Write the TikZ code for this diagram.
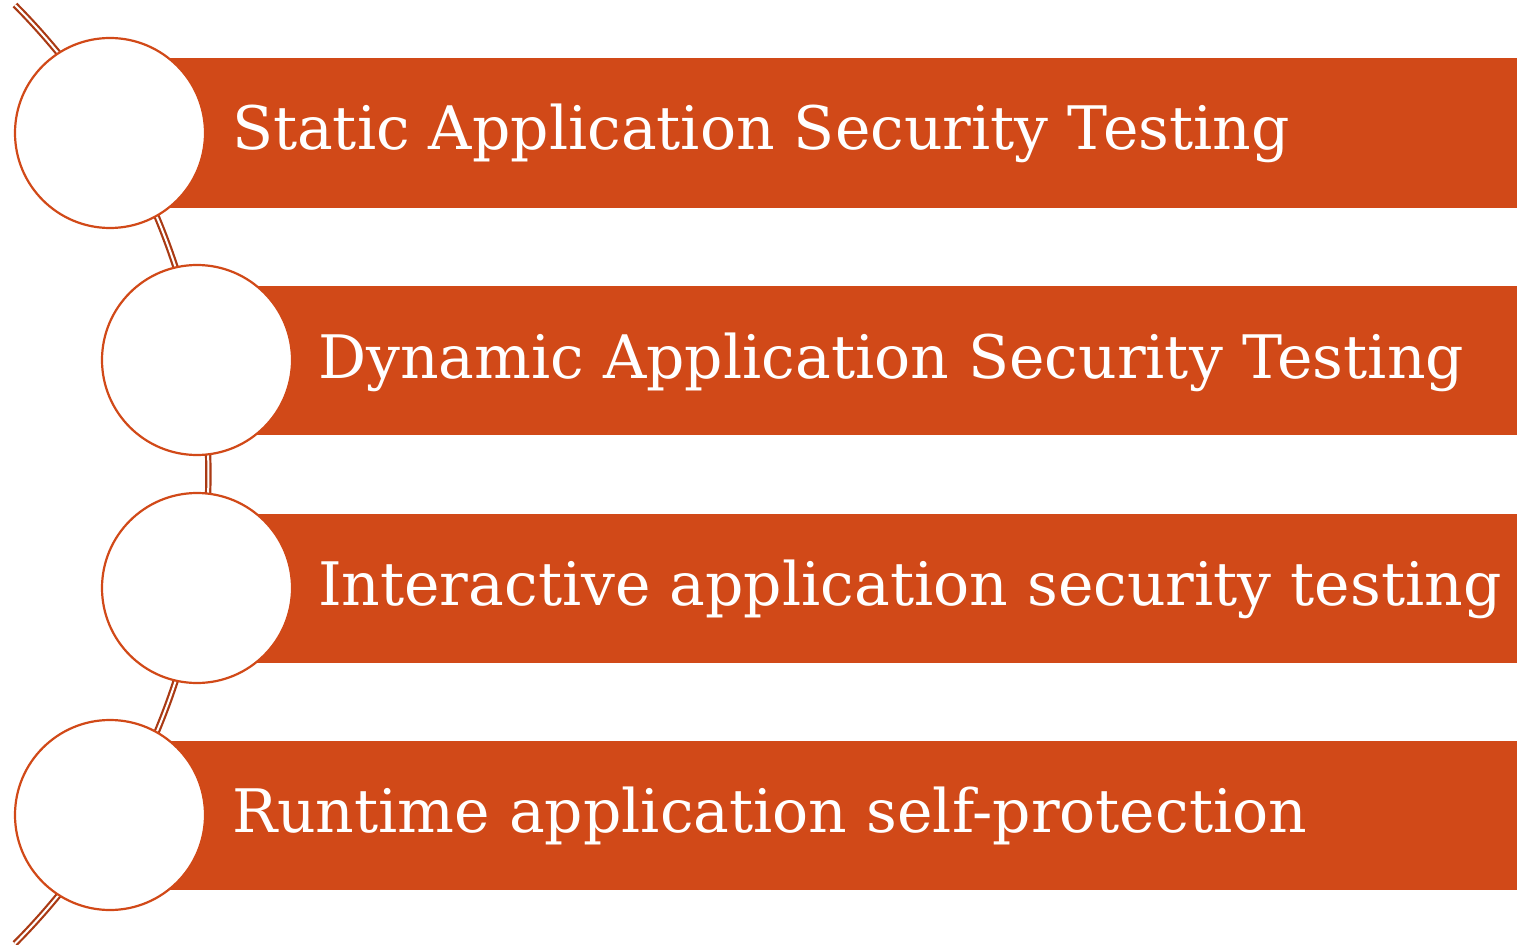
\documentclass[tikz,border=0pt]{standalone}
\usepackage{fontspec}
\setmainfont{DejaVu Serif}
\begin{document}
\begin{tikzpicture}[x=0.5pt,y=0.5pt,
  bar/.style={fill=barColor,draw=none},
  step circle/.style={circle,draw=barColor,line width=1.1pt,fill=white,minimum size=95pt,inner sep=0pt},
  label text/.style={text=white,anchor=base west,inner sep=0pt,outer sep=0pt,font=\fontsize{30}{36}\selectfont}]
\definecolor{barColor}{RGB}{209,73,24}
\definecolor{arcColor}{RGB}{170,58,20}
\path[use as bounding box,fill=white] (0,0) rectangle (1524,944);

% bars
\path[bar] (110,736) rectangle (1517,886);
\path[bar] (197,509) rectangle (1517,658);
\path[bar] (197,281) rectangle (1517,430);
\path[bar] (110, 54) rectangle (1517,203);

% arc behind the circles
\draw[arcColor,line width=1.1pt,double=white,double distance=1pt]
  (15,939) arc[start angle=44.8,end angle=-44.8,radius=666];

% circles
\node[step circle] (sast) at (110,811) {};
\node[step circle] (dast) at (197,584) {};
\node[step circle] (iast) at (197,356) {};
\node[step circle] (rasp) at (110,129) {};

% labels
\node[label text] (sastText) at (232,794) {Static Application Security Testing};
\node[label text] (dastText) at (318,566) {Dynamic Application Security Testing};
\node[label text] (iastText) at (318,339) {Interactive application security testing};
\node[label text] (raspText) at (232,112) {Runtime application self-protection};
\end{tikzpicture}
\end{document}
